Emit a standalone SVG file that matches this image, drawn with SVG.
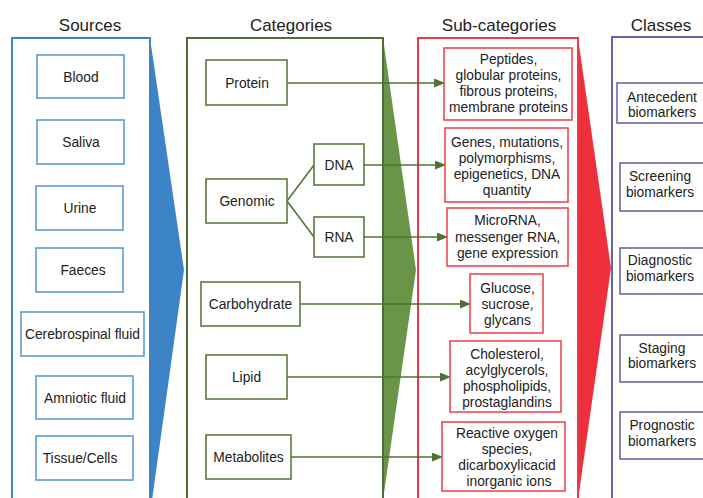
<svg xmlns="http://www.w3.org/2000/svg" width="703" height="498" viewBox="0 0 703 498">
<defs>
<style>
text{font-family:"Liberation Sans",Arial,sans-serif;font-size:13.8px;fill:#222;text-anchor:middle}
.title{font-size:17px}
.pb{fill:none;stroke:#3f85c6;stroke-width:2}
.pg{fill:none;stroke:#4f6e36;stroke-width:2}
.pr{fill:none;stroke:#ee3a44;stroke-width:2}
.pp{fill:none;stroke:#6a64a4;stroke-width:2}
.bb{fill:#fff;stroke:#5b9bd5;stroke-width:1.6}
.bg{fill:#fff;stroke:#5a7b40;stroke-width:1.6}
.br{fill:#fff;stroke:#f04a52;stroke-width:1.6}
.bp{fill:#fff;stroke:#6e66a6;stroke-width:1.6}
.conn{fill:none;stroke:#4f7236;stroke-width:1.6}
</style>
<marker id="ah" markerWidth="11" markerHeight="9" refX="10" refY="4.5" orient="auto" markerUnits="userSpaceOnUse">
<path d="M0,0 L11,4.5 L0,9 Z" fill="#4f7236"/>
</marker>
</defs>
<rect width="703" height="498" fill="#fff"/>

<g id="titles">
<text class="title" x="90" y="31">Sources</text>
<text class="title" x="291" y="31">Categories</text>
<text class="title" x="499" y="31">Sub-categories</text>
<text class="title" x="661" y="31">Classes</text>
</g>

<g id="panels">
<polygon points="150,38 184,270 150,515" fill="#3d84c6"/>
<rect class="pb" x="12" y="38" width="138" height="480"/>
<polygon points="383,38 416,270 383,500" fill="#6a9447"/>
<rect class="pg" x="187" y="38" width="196" height="480"/>
<polygon points="578,38 611,268 578,500" fill="#ee303d"/>
<rect class="pr" x="418" y="38" width="160" height="480"/>
<rect class="pp" x="612" y="37" width="120" height="480"/>
</g>

<g id="connectors">
<line class="conn" x1="287" y1="201" x2="314" y2="165"/>
<line class="conn" x1="287" y1="201" x2="314" y2="237"/>
<line class="conn" x1="287" y1="83" x2="444" y2="83" marker-end="url(#ah)"/>
<line class="conn" x1="364" y1="165" x2="445" y2="165" marker-end="url(#ah)"/>
<line class="conn" x1="364" y1="237" x2="447" y2="237" marker-end="url(#ah)"/>
<line class="conn" x1="300" y1="304" x2="470" y2="304" marker-end="url(#ah)"/>
<line class="conn" x1="287" y1="377" x2="450" y2="377" marker-end="url(#ah)"/>
<line class="conn" x1="291" y1="457" x2="442" y2="457" marker-end="url(#ah)"/>
</g>

<g id="blood"><rect class="bb" x="37" y="55" width="87" height="43"/><text x="81" y="81.5">Blood</text></g>
<g id="saliva"><rect class="bb" x="37" y="120" width="87" height="44"/><text x="81" y="147">Saliva</text></g>
<g id="urine"><rect class="bb" x="36" y="186" width="87" height="44"/><text x="80" y="213">Urine</text></g>
<g id="faeces"><rect class="bb" x="36" y="248" width="87" height="44"/><text x="83" y="275">Faeces</text></g>
<g id="csf"><rect class="bb" x="21" y="312" width="123" height="44"/><text x="82.5" y="339">Cerebrospinal fluid</text></g>
<g id="amniotic"><rect class="bb" x="36" y="376" width="97" height="43"/><text x="85" y="402.5">Amniotic fluid</text></g>
<g id="tissue"><rect class="bb" x="36" y="436" width="97" height="44"/><text x="80" y="463">Tissue/Cells</text></g>

<g id="protein"><rect class="bg" x="206" y="60" width="81" height="45"/><text x="247" y="87.5">Protein</text></g>
<g id="genomic"><rect class="bg" x="206" y="179" width="81" height="44"/><text x="247" y="206">Genomic</text></g>
<g id="dna"><rect class="bg" x="314" y="144" width="50" height="41"/><text x="339" y="170">DNA</text></g>
<g id="rna"><rect class="bg" x="314" y="217" width="50" height="40"/><text x="339" y="242">RNA</text></g>
<g id="carbohydrate"><rect class="bg" x="201" y="282" width="99" height="44"/><text x="250.5" y="309">Carbohydrate</text></g>
<g id="lipid"><rect class="bg" x="206" y="355" width="81" height="44"/><text x="246.5" y="382">Lipid</text></g>
<g id="metabolites"><rect class="bg" x="206" y="435" width="85" height="44"/><text x="248.5" y="462">Metabolites</text></g>

<g id="sub-protein"><rect class="br" x="444" y="48" width="128" height="72"/>
<text x="508.5" y="64"><tspan x="508.5">Peptides,</tspan><tspan x="508.5" dy="16">globular proteins,</tspan><tspan x="508.5" dy="16">fibrous proteins,</tspan><tspan x="508.5" dy="16">membrane proteins</tspan></text></g>
<g id="sub-dna"><rect class="br" x="445" y="128" width="123" height="74"/>
<text x="507" y="147"><tspan x="507">Genes, mutations,</tspan><tspan x="507" dy="16">polymorphisms,</tspan><tspan x="507" dy="16">epigenetics, DNA</tspan><tspan x="507" dy="16">quantity</tspan></text></g>
<g id="sub-rna"><rect class="br" x="447" y="208" width="121" height="58"/>
<text x="507.5" y="225"><tspan x="507.5">MicroRNA,</tspan><tspan x="507.5" dy="16.5">messenger RNA,</tspan><tspan x="507.5" dy="16.5">gene expression</tspan></text></g>
<g id="sub-carb"><rect class="br" x="470" y="274" width="73" height="59"/>
<text x="507.5" y="292.5"><tspan x="507.5">Glucose,</tspan><tspan x="507.5" dy="16">sucrose,</tspan><tspan x="507.5" dy="16">glycans</tspan></text></g>
<g id="sub-lipid"><rect class="br" x="450" y="341" width="111" height="71"/>
<text x="507" y="358.5"><tspan x="507">Cholesterol,</tspan><tspan x="507" dy="16">acylglycerols,</tspan><tspan x="507" dy="16">phospholipids,</tspan><tspan x="507" dy="16">prostaglandins</tspan></text></g>
<g id="sub-metab"><rect class="br" x="442" y="422" width="123" height="69"/>
<text x="507" y="437.5"><tspan x="507">Reactive oxygen</tspan><tspan x="507" dy="16">species,</tspan><tspan x="507" dy="16">dicarboxylicacid</tspan><tspan x="509" dy="16">inorganic ions</tspan></text></g>

<g id="antecedent"><rect class="bp" x="617" y="83" width="100" height="40"/>
<text x="662" y="101.5"><tspan x="662">Antecedent</tspan><tspan x="662" dy="15">biomarkers</tspan></text></g>
<g id="screening"><rect class="bp" x="620" y="163" width="100" height="48"/>
<text x="660" y="180.5"><tspan x="660">Screening</tspan><tspan x="660" dy="16">biomarkers</tspan></text></g>
<g id="diagnostic"><rect class="bp" x="620" y="248" width="100" height="46"/>
<text x="660" y="264.5"><tspan x="660">Diagnostic</tspan><tspan x="660" dy="16">biomarkers</tspan></text></g>
<g id="staging"><rect class="bp" x="620" y="335" width="100" height="47"/>
<text x="662" y="352.5"><tspan x="662">Staging</tspan><tspan x="662" dy="15.5">biomarkers</tspan></text></g>
<g id="prognostic"><rect class="bp" x="620" y="412" width="100" height="47"/>
<text x="662" y="429.5"><tspan x="662">Prognostic</tspan><tspan x="662" dy="16">biomarkers</tspan></text></g>
</svg>
